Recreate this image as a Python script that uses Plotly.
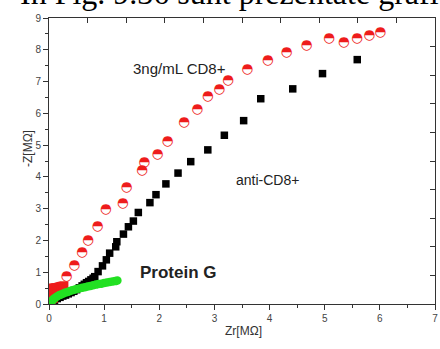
import plotly.graph_objects as go

# Nyquist data (Zr, -Z in MΩ)
cd8_x = [0.32, 0.46, 0.60, 0.71, 0.88, 1.03, 1.34, 1.41, 1.69, 1.73, 1.97, 2.15, 2.45,
         2.69, 2.88, 3.09, 3.25, 3.60, 3.97, 4.31, 4.67, 5.08, 5.35, 5.59, 5.81, 6.01]
cd8_y = [0.87, 1.21, 1.62, 2.00, 2.44, 2.97, 3.17, 3.65, 4.20, 4.46, 4.69, 5.11, 5.71,
         6.11, 6.53, 6.76, 7.03, 7.39, 7.65, 7.90, 8.13, 8.35, 8.23, 8.35, 8.43, 8.53]

# high-frequency cluster of the CD8+ curve near the origin
cd8_hf_x = [0.01, 0.01, 0.01, 0.01, 0.01, 0.02, 0.04, 0.06, 0.08, 0.10, 0.12, 0.14,
            0.16, 0.18, 0.20, 0.22, 0.24, 0.27, 0.06, 0.11, 0.16, 0.21, 0.26, 0.05,
            0.10, 0.15, 0.04, 0.08]
cd8_hf_y = [0.06, 0.15, 0.25, 0.35, 0.44, 0.48, 0.49, 0.49, 0.50, 0.50, 0.51, 0.51,
            0.52, 0.53, 0.54, 0.55, 0.56, 0.57, 0.36, 0.38, 0.40, 0.43, 0.46, 0.24,
            0.27, 0.31, 0.14, 0.18]

anti_x = [0.03, 0.06, 0.10, 0.15, 0.20, 0.25, 0.30, 0.35, 0.40, 0.45, 0.50, 0.55,
          0.60, 0.64, 0.68, 0.72, 0.76, 0.80, 0.83, 0.89, 0.97, 1.04, 1.10, 1.21,
          1.23, 1.35, 1.44, 1.53, 1.62, 1.83, 1.94, 2.12, 2.34, 2.57, 2.88, 3.18,
          3.53, 3.84, 4.42, 4.96, 5.59]
anti_y = [0.02, 0.06, 0.12, 0.17, 0.21, 0.25, 0.28, 0.32, 0.36, 0.40, 0.45, 0.51,
          0.57, 0.62, 0.67, 0.71, 0.76, 0.81, 0.86, 1.02, 1.20, 1.39, 1.60, 1.80,
          1.96, 2.20, 2.43, 2.61, 2.88, 3.19, 3.44, 3.78, 4.12, 4.48, 4.85, 5.31,
          5.77, 6.46, 6.77, 7.25, 7.69]

protg_x = [0.02, 0.04, 0.06, 0.08, 0.10, 0.13, 0.16, 0.19, 0.22, 0.26, 0.30, 0.34,
           0.38, 0.42, 0.46, 0.50, 0.55, 0.60, 0.65, 0.70, 0.75, 0.80, 0.85, 0.90,
           0.95, 1.00, 1.05, 1.10, 1.15, 1.20, 1.24]
protg_y = [0.02, 0.07, 0.11, 0.15, 0.18, 0.22, 0.25, 0.28, 0.30, 0.33, 0.36, 0.38,
           0.41, 0.43, 0.45, 0.47, 0.49, 0.51, 0.53, 0.55, 0.57, 0.59, 0.61, 0.63,
           0.64, 0.66, 0.68, 0.69, 0.71, 0.72, 0.74]

x_ticks = [0, 1, 2, 3, 4, 5, 6, 7]
y_ticks = [0, 1, 2, 3, 4, 5, 6, 7, 8, 9]

RED = "#ee1c1c"
GREEN = "#22e022"
AX = "#333333"
TICKFONT = dict(family="Liberation Sans, Arial", size=10, color="#444444")

fig = go.Figure()

fig.add_trace(go.Scatter(x=anti_x, y=anti_y, mode="markers",
                         marker=dict(symbol="square", size=7.5, color="#000000"),
                         showlegend=False))
fig.add_trace(go.Scatter(x=cd8_hf_x, y=cd8_hf_y, mode="markers", cliponaxis=True,
                         marker=dict(symbol="square", size=9, color=RED),
                         showlegend=False))
fig.add_trace(go.Scatter(x=protg_x, y=protg_y, mode="markers",
                         marker=dict(symbol="circle", size=8.5, color=GREEN),
                         showlegend=False))
# half-filled circles for the CD8+ series
fig.add_trace(go.Scatter(x=cd8_x, y=cd8_y, mode="text", text=["\u25D3"] * len(cd8_x),
                         textposition="middle center",
                         textfont=dict(family="DejaVu Sans", size=13.5, color=RED),
                         showlegend=False))
# carrier trace for the mirrored top/right axes
fig.add_trace(go.Scatter(x=[None], y=[None], xaxis="x2", yaxis="y2",
                         showlegend=False, hoverinfo="skip"))

fig.update_layout(
    width=440, height=349,
    margin=dict(l=49, r=2, t=18, b=45),
    paper_bgcolor="white", plot_bgcolor="white",
    xaxis=dict(range=[0, 7], tickvals=x_ticks, showgrid=False, zeroline=False,
               showline=True, linecolor=AX, linewidth=1, ticklabeloverflow="allow",
               ticks="outside", ticklen=5, tickcolor=AX, tickfont=TICKFONT,
               minor=dict(dtick=0.5, ticks="outside", ticklen=3, tickcolor=AX)),
    yaxis=dict(range=[0, 9], tickvals=y_ticks, showgrid=False, zeroline=False,
               showline=True, linecolor=AX, linewidth=1, ticklabeloverflow="allow",
               ticks="outside", ticklen=5, tickcolor=AX, tickfont=TICKFONT,
               minor=dict(dtick=0.5, ticks="outside", ticklen=3, tickcolor=AX)),
    xaxis2=dict(range=[0, 7], overlaying="x", side="top", tick0=0, dtick=0.7,
                showgrid=False, zeroline=False, showline=True, linecolor=AX,
                ticks="inside", ticklen=5, tickcolor=AX, showticklabels=False),
    yaxis2=dict(range=[0, 9], overlaying="y", side="right", tick0=0, dtick=0.9,
                showgrid=False, zeroline=False, showline=True, linecolor=AX,
                ticks="inside", ticklen=5, tickcolor=AX, showticklabels=False),
    font=dict(family="Liberation Sans, Arial", color="#222222"),
)

fig.add_annotation(text="3ng/mL CD8+", x=2.36, y=7.40, xref="x", yref="y",
                   showarrow=False, font=dict(size=15, color="#222222"))
fig.add_annotation(text="anti-CD8+", x=3.96, y=3.91, xref="x", yref="y",
                   showarrow=False, font=dict(size=14, color="#222222"))
fig.add_annotation(text="<b>Protein G</b>", x=2.34, y=0.98, xref="x", yref="y",
                   showarrow=False, font=dict(size=17, color="#222222"))

fig.add_annotation(text="-Z[MΩ]", textangle=-90, x=-0.078, y=0.545,
                   xref="paper", yref="paper", showarrow=False,
                   font=dict(size=12, color="#333333"))
fig.add_annotation(text="Zr[MΩ]", x=0.503, y=-0.125, xref="paper", yref="paper",
                   showarrow=False, font=dict(size=12, color="#333333"))

# running text of the page above the figure
fig.add_annotation(text="În Fig. 9.36 sunt prezentate graficele", x=-0.08, y=1.088,
                   xref="paper", yref="paper", xanchor="left", yanchor="middle",
                   showarrow=False,
                   font=dict(family="Liberation Serif", size=32, color="#000000"))

fig.write_html("out.html")
